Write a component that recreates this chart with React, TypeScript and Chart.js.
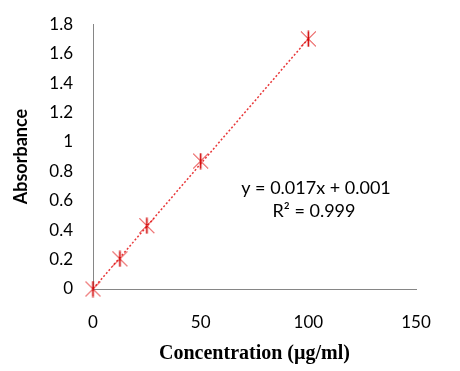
import React, { useEffect, useRef } from "react";
import { Chart, registerables } from "chart.js";

Chart.register(...registerables);

const concentrations = [0, 12.5, 25, 50, 100];
const absorbances = [0, 0.205, 0.43, 0.87, 1.7];
const slope = 0.017;
const intercept = 0.001;
const trendX = [0, 100];
const equationLines = ["y = 0.017x + 0.001", "R² = 0.999"];
const xTitle = "Concentration (µg/ml)";
const yTitle = "Absorbance";

function makeMarker(): HTMLCanvasElement {
  const c = document.createElement("canvas");
  c.width = 17;
  c.height = 17;
  const g = c.getContext("2d")!;
  g.strokeStyle = "#e01010";
  g.lineWidth = 1;
  g.beginPath();
  g.moveTo(1, 1);
  g.lineTo(16, 16);
  g.moveTo(16, 1);
  g.lineTo(1, 16);
  g.stroke();
  g.strokeStyle = "#d00000";
  g.lineWidth = 1.6;
  g.beginPath();
  g.moveTo(8.5, 0.5);
  g.lineTo(8.5, 16.5);
  g.stroke();
  return c;
}

export default function App() {
  const ref = useRef<HTMLCanvasElement>(null);
  useEffect(() => {
    const marker = makeMarker();
    const eqPlugin = {
      id: "eq",
      afterDraw(chart: any) {
        const ctx = chart.ctx;
        ctx.save();
        ctx.fillStyle = "#000";
        ctx.font = "18px Lato";
        ctx.textAlign = "center";
        ctx.textBaseline = "middle";
        ctx.fillText(equationLines[0], 316, 188);
        ctx.fillText(equationLines[1], 314, 211);
        ctx.restore();
      },
    };
    const chart = new Chart(ref.current!, {
      type: "scatter",
      data: {
        datasets: [
          {
            label: "trend",
            data: trendX.map((x) => ({ x, y: slope * x + intercept })),
            showLine: true,
            borderColor: "#e8383a",
            borderWidth: 1.5,
            borderDash: [2, 2],
            pointRadius: 0,
            clip: false,
            order: 2,
          },
          {
            label: "data",
            data: concentrations.map((x, i) => ({ x, y: absorbances[i] })),
            pointStyle: marker as any,
            pointRadius: 8,
            showLine: false,
            clip: false,
            order: 1,
          } as any,
        ],
      },
      options: {
        animation: false,
        responsive: false,
        maintainAspectRatio: false,
        layout: { padding: { top: 20, right: 44, left: 0, bottom: 0 } },
        plugins: { legend: { display: false }, tooltip: { enabled: false } },
        scales: {
          x: {
            type: "linear",
            min: 0,
            max: 150,
            ticks: { stepSize: 50, color: "#000", font: { family: "Lato", size: 17 }, padding: 17 },
            grid: { display: false, drawTicks: true, tickLength: 6, tickColor: "#868686" } as any,
            border: { color: "#868686", width: 1 },
            title: {
              display: true,
              text: xTitle,
              color: "#000",
              font: { family: "Liberation Serif", size: 20, weight: "bold" },
              padding: { top: 0, bottom: 5 },
            },
            afterFit(scale: any) {
              scale.height = 82;
            },
          },
          y: {
            min: 0,
            max: 1.8,
            ticks: {
              stepSize: 0.2,
              color: "#000",
              font: { family: "Lato", size: 17 },
              padding: 14,
              callback: (v: any) => String(Math.round(Number(v) * 10) / 10),
            },
            grid: { display: false, drawTicks: true, tickLength: 6, tickColor: "#868686" } as any,
            border: { color: "#868686", width: 1 },
            title: {
              display: true,
              text: yTitle,
              color: "#000",
              font: { family: "Lato", size: 18, weight: "bold" },
              padding: { top: 10, bottom: 0 },
            },
            afterFit(scale: any) {
              scale.width = 93;
            },
          },
        },
      },
      plugins: [eqPlugin],
    });
    return () => chart.destroy();
  }, []);
  return (
    <div style={{ position: "fixed", left: 0, top: 0, width: 460, height: 371, background: "#fff" }}>
      <canvas ref={ref} width={460} height={371} style={{ width: 460, height: 371 }} />
    </div>
  );
}
